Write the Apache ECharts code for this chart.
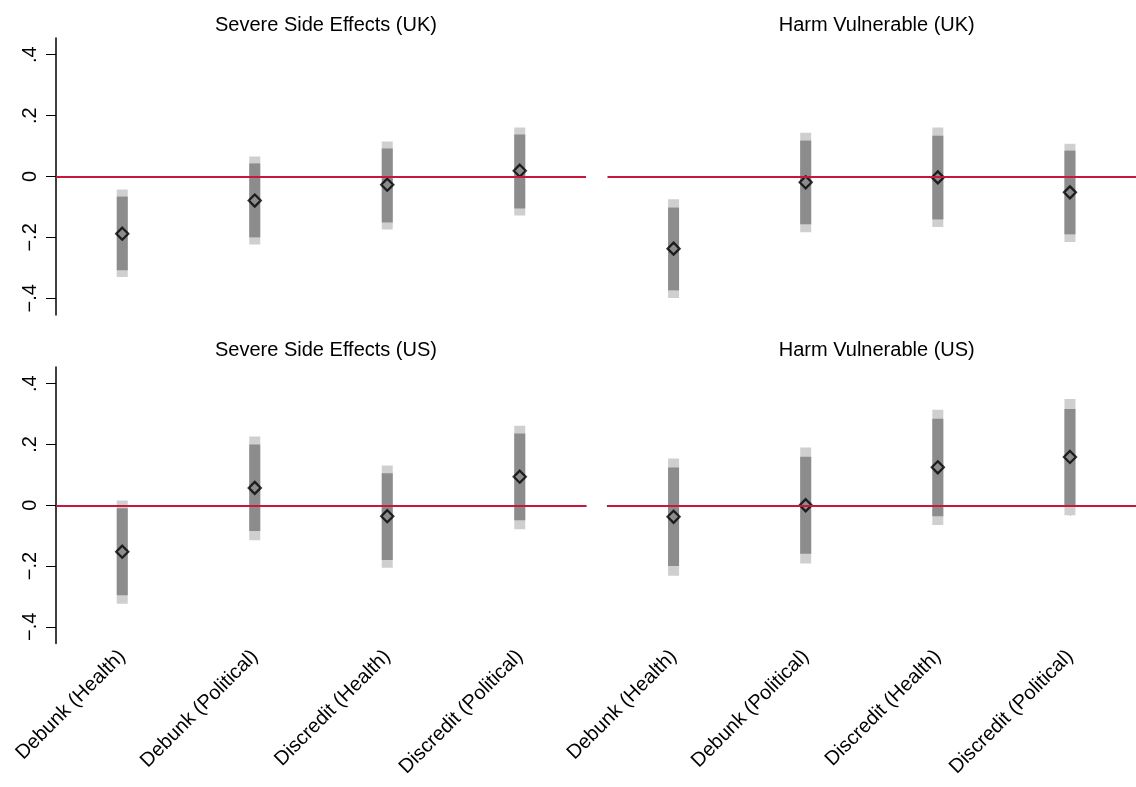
<!DOCTYPE html>
<html>
<head>
<meta charset="utf-8">
<style>html,body{margin:0;padding:0;background:#fff;}#chart{width:1136px;height:787px;}</style>
<script src="https://cdn.jsdelivr.net/npm/echarts@6/dist/echarts.min.js"></script>
</head>
<body>
<div id="chart"></div>
<script>
const categories = ['Debunk (Health)', 'Debunk (Political)', 'Discredit (Health)', 'Discredit (Political)'];
const panelTitles = ['Severe Side Effects (UK)', 'Harm Vulnerable (UK)', 'Severe Side Effects (US)', 'Harm Vulnerable (US)'];
const yTickValues = [-0.4, -0.2, 0, 0.2, 0.4];
const yTickLabels = ['\u2212.4', '\u2212.2', '0', '.2', '.4'];

// UK - Severe Side Effects
const ukSevereEst  = [-0.188, -0.079, -0.027, 0.019];
const ukSevereLo90 = [-0.308, -0.200, -0.151, -0.105];
const ukSevereHi90 = [-0.066, 0.043, 0.092, 0.138];
const ukSevereLo95 = [-0.330, -0.223, -0.174, -0.128];
const ukSevereHi95 = [-0.043, 0.066, 0.115, 0.161];
// UK - Harm Vulnerable
const ukHarmEst  = [-0.237, -0.019, -0.003, -0.052];
const ukHarmLo90 = [-0.374, -0.157, -0.141, -0.190];
const ukHarmHi90 = [-0.102, 0.118, 0.134, 0.085];
const ukHarmLo95 = [-0.399, -0.183, -0.166, -0.215];
const ukHarmHi95 = [-0.075, 0.144, 0.161, 0.108];
// US - Severe Side Effects
const usSevereEst  = [-0.153, 0.057, -0.036, 0.094];
const usSevereLo90 = [-0.296, -0.085, -0.180, -0.049];
const usSevereHi90 = [-0.010, 0.200, 0.105, 0.236];
const usSevereLo95 = [-0.324, -0.115, -0.206, -0.079];
const usSevereHi95 = [0.016, 0.226, 0.131, 0.262];
// US - Harm Vulnerable
const usHarmEst  = [-0.038, 0.000, 0.125, 0.159];
const usHarmLo90 = [-0.200, -0.160, -0.036, -0.003];
const usHarmHi90 = [0.124, 0.160, 0.285, 0.317];
const usHarmLo95 = [-0.232, -0.192, -0.065, -0.033];
const usHarmHi95 = [0.154, 0.190, 0.314, 0.350];

const panels = [
  {est: ukSevereEst, lo90: ukSevereLo90, hi90: ukSevereHi90, lo95: ukSevereLo95, hi95: ukSevereHi95},
  {est: ukHarmEst, lo90: ukHarmLo90, hi90: ukHarmHi90, lo95: ukHarmLo95, hi95: ukHarmHi95},
  {est: usSevereEst, lo90: usSevereLo90, hi90: usSevereHi90, lo95: usSevereLo95, hi95: usSevereHi95},
  {est: usHarmEst, lo90: usHarmLo90, hi90: usHarmHi90, lo95: usHarmLo95, hi95: usHarmHi95}
];

const FONT = "'Liberation Sans', Arial, Helvetica, sans-serif";
const grids = [
  {left: 56, top: 38, width: 530, height: 277},
  {left: 607.5, top: 38, width: 528.5, height: 277},
  {left: 56, top: 367, width: 530, height: 276.5},
  {left: 607.5, top: 367, width: 528.5, height: 276.5}
];

function rangeRender(color) {
  return function (params, api) {
    const x = api.value(0);
    const p1 = api.coord([x, api.value(2)]);
    const p2 = api.coord([x, api.value(1)]);
    const w = 11;
    return {type: 'rect', shape: {x: p1[0] - w / 2, y: p1[1], width: w, height: p2[1] - p1[1]}, style: {fill: color}};
  };
}

const xAxes = [], yAxes = [], series = [], titles = [];
panels.forEach((p, i) => {
  const isBottom = i >= 2, isLeft = i % 2 === 0;
  const g = grids[i];
  titles.push({text: panelTitles[i], left: g.left + g.width / 2, top: isBottom ? 335 : 10, textAlign: 'center',
    textStyle: {fontFamily: FONT, fontSize: 20, fontWeight: 'normal', color: '#000'}});
  xAxes.push({type: 'category', gridIndex: i, data: categories, boundaryGap: true,
    axisLine: {show: isBottom, lineStyle: {color: '#000', width: 1.5}},
    axisTick: {show: isBottom, alignWithLabel: true, length: 10, lineStyle: {color: '#000', width: 1}},
    axisLabel: {show: isBottom, rotate: 45, margin: 10, interval: 0, fontFamily: FONT, fontSize: 20, color: '#000'},
    splitLine: {show: false}});
  yAxes.push({type: 'value', gridIndex: i, min: -0.455, max: 0.455,
    axisLine: {show: isLeft, onZero: false, lineStyle: {color: '#000', width: 1.5}},
    axisTick: {show: isLeft, length: 10, customValues: yTickValues, lineStyle: {color: '#000', width: 1}},
    axisLabel: {show: isLeft, rotate: 90, margin: 16, customValues: yTickValues, fontFamily: FONT, fontSize: 20, color: '#000',
      formatter: v => { const k = yTickValues.findIndex(t => Math.abs(t - v) < 1e-9); return k >= 0 ? yTickLabels[k] : ''; }},
    splitLine: {show: false}});
  const d95 = categories.map((c, k) => [k, p.lo95[k], p.hi95[k]]);
  const d90 = categories.map((c, k) => [k, p.lo90[k], p.hi90[k]]);
  series.push({type: 'custom', xAxisIndex: i, yAxisIndex: i, z: 2, renderItem: rangeRender('#cfcfcf'), encode: {x: 0, y: [1, 2]}, data: d95, silent: true});
  series.push({type: 'custom', xAxisIndex: i, yAxisIndex: i, z: 2, renderItem: rangeRender('#8c8c8c'), encode: {x: 0, y: [1, 2]}, data: d90, silent: true});
  series.push({type: 'scatter', xAxisIndex: i, yAxisIndex: i, z: 3, data: [], silent: true,
    markLine: {silent: true, symbol: 'none', label: {show: false}, lineStyle: {color: '#c8163f', width: 2, type: 'solid'}, data: [{yAxis: 0}], animation: false}});
  series.push({type: 'scatter', xAxisIndex: i, yAxisIndex: i, z: 4, symbol: 'diamond', symbolSize: [12, 12],
    itemStyle: {color: 'rgba(0,0,0,0)', borderColor: '#000', borderWidth: 2.3}, data: categories.map((c, k) => [k, p.est[k]]), silent: true});
});

const chart = echarts.init(document.getElementById('chart'), null, {renderer: 'canvas'});
chart.setOption({animation: false, backgroundColor: '#fff', title: titles, grid: grids, xAxis: xAxes, yAxis: yAxes, series: series});
</script>
</body>
</html>
